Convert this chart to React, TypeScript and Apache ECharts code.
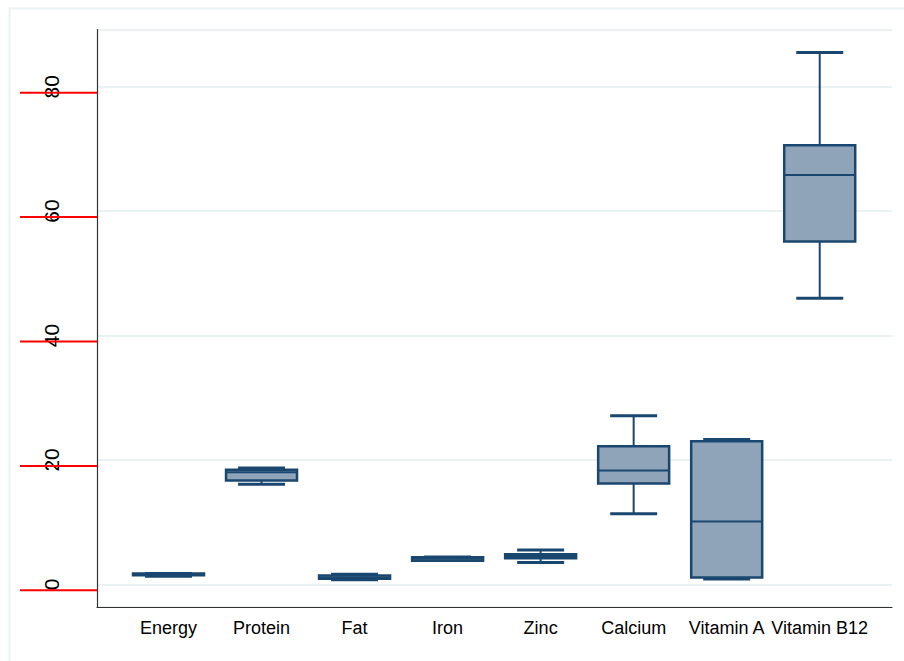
import React, { useEffect, useRef } from "react";
import * as echarts from "echarts";

const categories = ["Energy", "Protein", "Fat", "Iron", "Zinc", "Calcium", "Vitamin A", "Vitamin B12"];
const lowerWhisker = [1.3, 16.1, 0.75, 3.85, 3.5, 11.35, 0.85, 46.0];
const q1Values = [1.45, 16.7, 0.9, 3.8, 4.2, 16.2, 1.1, 55.1];
const medians = [1.6, 18.0, 1.1, 4.1, 4.55, 18.3, 10.1, 65.8];
const q3Values = [1.72, 18.4, 1.4, 4.35, 4.85, 22.2, 23.0, 70.6];
const upperWhisker = [1.75, 18.7, 1.6, 4.4, 5.5, 27.1, 23.3, 85.5];
const yTicks = [0, 20, 40, 60, 80];

const LINE = "#1a476f";
const FILL = "#8fa4b8";
const GRID = "#eaf2f3";
const AXIS = "#333333";
const X_MIN = -0.7686;
const X_MAX = 7.777;
const Y_MIN = -3.65;
const Y_MAX = 89.2;

export default function App() {
  const ref = useRef<HTMLDivElement>(null);
  useEffect(() => {
    if (!ref.current) return;
    const chart = echarts.init(ref.current, null, { renderer: "svg" });
    const data = categories.map((_, i) => [i, lowerWhisker[i], q1Values[i], medians[i], q3Values[i], upperWhisker[i]]);
    const boxW = 0.763;
    const capW = 0.505;
    chart.setOption({
      animation: false,
      backgroundColor: "#ffffff",
      graphic: [
        {
          type: "rect",
          left: 7,
          top: 6,
          shape: { x: 0, y: 0, width: 1000, height: 1000 },
          style: { fill: "none", stroke: GRID, lineWidth: 2 },
          silent: true,
        },
      ],
      grid: [
        { left: 97, top: 29.5, right: 12, bottom: 54, containLabel: false },
        { left: 20, top: 29.5, width: 77, bottom: 54, containLabel: false },
      ],
      xAxis: [
        {
          type: "value",
          gridIndex: 0,
          min: X_MIN,
          max: X_MAX,
          axisLine: { show: true, onZero: false, lineStyle: { color: AXIS, width: 1.2 } },
          axisTick: { show: false },
          splitLine: { show: false },
          axisLabel: {
            customValues: categories.map((_, i) => i),
            formatter: (v: number) => categories[Math.round(v)] ?? "",
            fontFamily: "Liberation Sans, Arial, sans-serif",
            fontSize: 18,
            color: "#000000",
            margin: 12,
          },
        },
        { type: "value", gridIndex: 1, min: 0, max: 1, show: false },
      ],
      yAxis: [
        {
          type: "value",
          gridIndex: 0,
          min: Y_MIN,
          max: Y_MAX,
          axisLine: { show: true, onZero: false, lineStyle: { color: AXIS, width: 1.2 } },
          axisTick: { show: false },
          splitLine: { show: true, lineStyle: { color: GRID, width: 2 } },
          axisLabel: {
            customValues: yTicks,
            rotate: 90,
            margin: 35,
            fontFamily: "Liberation Sans, Arial, sans-serif",
            fontSize: 21,
            color: "#000000",
          },
        },
        { type: "value", gridIndex: 1, min: Y_MIN, max: Y_MAX, show: false },
      ],
      series: [
        {
          type: "custom",
          xAxisIndex: 1,
          yAxisIndex: 1,
          silent: true,
          z: 10,
          data: yTicks.map((v) => [0, v]),
          encode: { x: 0, y: 1 },
          renderItem: (params: any, api: any) => {
            const v = api.value(1);
            const a = api.coord([0, v]);
            const b = api.coord([1, v]);
            return {
              type: "line",
              shape: { x1: a[0], y1: a[1] + 6, x2: b[0], y2: b[1] + 6 },
              style: { stroke: "#ff0000", lineWidth: 2 },
            };
          },
        },
        {
          type: "custom",
          xAxisIndex: 0,
          yAxisIndex: 0,
          data,
          encode: { x: 0, y: [1, 2, 3, 4, 5] },
          renderItem: (params: any, api: any) => {
            const x = api.value(0);
            const mn = api.value(1);
            const q1 = api.value(2);
            const md = api.value(3);
            const q3 = api.value(4);
            const mx = api.value(5);
            const pTL = api.coord([x - boxW / 2, q3]);
            const pBR = api.coord([x + boxW / 2, q1]);
            const pc = (v: number) => api.coord([x, v]);
            const capL = api.coord([x - capW / 2, mx])[0];
            const capR = api.coord([x + capW / 2, mx])[0];
            const cx = pc(md)[0];
            const lw = 2;
            return {
              type: "group",
              children: [
                { type: "line", shape: { x1: cx, y1: pc(q3)[1], x2: cx, y2: pc(mx)[1] }, style: { stroke: LINE, lineWidth: lw } },
                { type: "line", shape: { x1: cx, y1: pc(q1)[1], x2: cx, y2: pc(mn)[1] }, style: { stroke: LINE, lineWidth: lw } },
                { type: "line", shape: { x1: capL, y1: pc(mx)[1], x2: capR, y2: pc(mx)[1] }, style: { stroke: LINE, lineWidth: lw + 1 } },
                { type: "line", shape: { x1: capL, y1: pc(mn)[1], x2: capR, y2: pc(mn)[1] }, style: { stroke: LINE, lineWidth: lw + 1 } },
                {
                  type: "rect",
                  shape: { x: pTL[0], y: pTL[1], width: pBR[0] - pTL[0], height: Math.max(pBR[1] - pTL[1], 1) },
                  style: { fill: FILL, stroke: LINE, lineWidth: lw + 0.5 },
                },
                { type: "line", shape: { x1: pTL[0], y1: pc(md)[1], x2: pBR[0], y2: pc(md)[1] }, style: { stroke: LINE, lineWidth: lw } },
              ],
            };
          },
        },
      ],
    });
    return () => chart.dispose();
  }, []);
  return <div ref={ref} style={{ position: "fixed", left: 0, top: 0, width: 904, height: 661 }} />;
}
